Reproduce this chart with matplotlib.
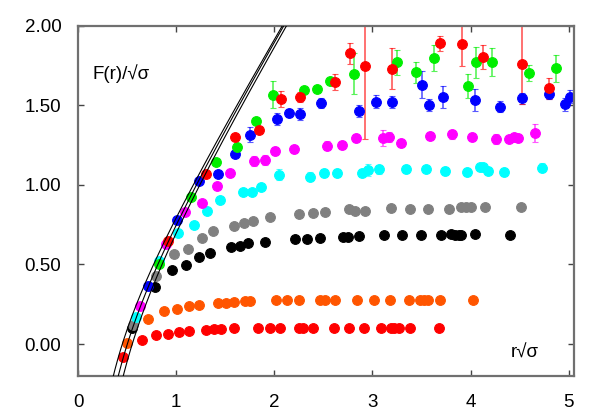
import matplotlib
matplotlib.use("Agg")
import matplotlib.pyplot as plt
from matplotlib.colors import to_rgba
import numpy as np

plt.rcParams['font.family'] = ['Liberation Sans', 'DejaVu Sans']

# data (x = r*sqrt(sigma), y = F(r)/sqrt(sigma))
red_lo_x = [0.461, 0.649, 0.794, 0.920, 1.029, 1.127, 1.300, 1.382, 1.453, 1.592, 1.836, 1.952, 2.057,
            2.247, 2.291, 2.393, 2.607, 2.763, 2.912, 3.089, 3.190, 3.225, 3.266, 3.384, 3.683]
red_lo_y = [-0.082, 0.027, 0.058, 0.066, 0.077, 0.083, 0.090, 0.094, 0.094, 0.098, 0.098, 0.099, 0.099,
            0.101, 0.100, 0.100, 0.101, 0.100, 0.100, 0.100, 0.100, 0.100, 0.100, 0.101, 0.100]

orange_x = [0.502, 0.713, 0.873, 1.005, 1.127, 1.232, 1.426, 1.510, 1.589, 1.698, 1.748, 2.013, 2.131,
            2.247, 2.461, 2.518, 2.614, 2.841, 3.014, 3.180, 3.374, 3.483, 3.523, 3.564, 3.693, 4.025]
orange_y = [0.006, 0.159, 0.205, 0.220, 0.236, 0.248, 0.257, 0.259, 0.265, 0.270, 0.272, 0.275, 0.276,
            0.277, 0.278, 0.277, 0.278, 0.278, 0.278, 0.278, 0.279, 0.278, 0.278, 0.278, 0.278, 0.279]

black_x = [0.553, 0.781, 0.954, 1.100, 1.229, 1.347, 1.555, 1.653, 1.731, 1.907, 2.207, 2.335, 2.461,
           2.699, 2.749, 2.861, 3.113, 3.302, 3.490, 3.697, 3.805, 3.839, 3.883, 3.907, 4.050, 4.406]
black_y = [0.100, 0.358, 0.464, 0.497, 0.546, 0.575, 0.609, 0.619, 0.634, 0.642, 0.659, 0.659, 0.669,
           0.671, 0.675, 0.681, 0.684, 0.684, 0.686, 0.686, 0.689, 0.688, 0.687, 0.687, 0.690, 0.687]

gray_x = [0.560, 0.797, 0.975, 1.123, 1.260, 1.378, 1.592, 1.687, 1.782, 1.952, 2.251, 2.393, 2.518,
          2.760, 2.818, 2.926, 3.190, 3.384, 3.564, 3.781, 3.903, 3.951, 4.005, 4.145, 4.514]
gray_y = [0.120, 0.426, 0.565, 0.596, 0.665, 0.711, 0.744, 0.759, 0.774, 0.799, 0.816, 0.824, 0.828,
          0.847, 0.838, 0.834, 0.855, 0.847, 0.847, 0.851, 0.860, 0.860, 0.860, 0.860, 0.860]

cyan_x = [0.591, 0.822, 1.020, 1.179, 1.319, 1.446, 1.677, 1.775, 1.869, 2.049, 2.363, 2.505, 2.641,
          2.892, 2.953, 3.070, 3.340, 3.544, 3.737, 3.964, 4.092, 4.129, 4.178, 4.341, 4.725]
cyan_y = [0.169, 0.520, 0.696, 0.749, 0.836, 0.907, 0.957, 0.957, 0.985, 1.063, 1.051, 1.077, 1.077,
          1.077, 1.093, 1.097, 1.100, 1.100, 1.085, 1.083, 1.110, 1.110, 1.089, 1.083, 1.108]
cyan_e = [0.005, 0.008, 0.010, 0.010, 0.012, 0.015, 0.015, 0.015, 0.020, 0.035, 0.030, 0.025, 0.025,
          0.025, 0.035, 0.030, 0.025, 0.020, 0.025, 0.025, 0.020, 0.020, 0.020, 0.025, 0.030]

magenta_x = [0.629, 0.894, 1.095, 1.263, 1.415, 1.545, 1.792, 1.902, 2.004, 2.196, 2.538, 2.690,
             2.836, 3.104, 3.170, 3.294, 3.585, 3.806, 4.012, 4.255, 4.394, 4.440, 4.486, 4.659]
magenta_y = [0.240, 0.627, 0.832, 0.888, 0.993, 1.073, 1.148, 1.155, 1.213, 1.222, 1.247, 1.250,
             1.292, 1.292, 1.302, 1.261, 1.307, 1.317, 1.302, 1.287, 1.287, 1.302, 1.292, 1.324]
magenta_e = [0.005, 0.008, 0.010, 0.012, 0.020, 0.025, 0.030, 0.030, 0.025, 0.025, 0.030, 0.025,
             0.025, 0.050, 0.030, 0.025, 0.025, 0.030, 0.025, 0.030, 0.020, 0.020, 0.020, 0.055]

blue_x = [0.713, 1.006, 1.235, 1.429, 1.602, 1.754, 2.024, 2.147, 2.263, 2.478, 2.865, 3.035, 3.200,
          3.505, 3.580, 3.720, 4.048, 4.297, 4.528, 4.801, 4.959, 5.015]
blue_y = [0.365, 0.780, 1.026, 1.068, 1.196, 1.316, 1.414, 1.449, 1.445, 1.516, 1.464, 1.522, 1.518,
          1.629, 1.503, 1.553, 1.533, 1.491, 1.543, 1.568, 1.506, 1.553]
blue_e = [0.005, 0.008, 0.010, 0.015, 0.020, 0.046, 0.040, 0.025, 0.035, 0.031, 0.039, 0.042, 0.038,
          0.086, 0.039, 0.069, 0.067, 0.033, 0.036, 0.029, 0.042, 0.042]

green_x = [0.828, 1.148, 1.405, 1.622, 1.813, 1.988, 2.298, 2.432, 2.564, 2.811, 3.246, 3.442, 3.627,
           3.977, 4.058, 4.216, 4.591, 4.868]
green_y = [0.505, 0.922, 1.146, 1.240, 1.403, 1.565, 1.594, 1.602, 1.653, 1.699, 1.769, 1.706, 1.794,
           1.620, 1.769, 1.769, 1.704, 1.731]
green_e = [0.005, 0.008, 0.010, 0.012, 0.015, 0.085, 0.020, 0.020, 0.020, 0.130, 0.077, 0.068, 0.082,
           0.077, 0.095, 0.088, 0.050, 0.086]

red_hi_x = [0.920, 1.303, 1.599, 1.846, 2.065, 2.261, 2.614, 2.770, 2.921, 3.200, 3.693, 3.916, 4.129,
            4.523, 4.796]
red_hi_y = [0.647, 1.066, 1.302, 1.346, 1.540, 1.550, 1.646, 1.825, 1.748, 1.730, 1.888, 1.884, 1.805,
            1.757, 1.606]
red_hi_e = [0.005, 0.010, 0.012, 0.015, 0.048, 0.030, 0.053, 0.063, 0.462, 0.129, 0.048, 0.140, 0.075,
            0.250, 0.066]

# T=0 potential curves  b*x - a/x + c, parameters
curve_a = [0.189, 0.236, 0.297]
curve_b = [1.025, 1.030, 1.019]
curve_c = [-0.044, -0.048, -0.026]

series = [
    (red_lo_x, red_lo_y, None, "#ff0000"),
    (orange_x, orange_y, None, "#ff5500"),
    (black_x, black_y, None, "#000000"),
    (gray_x, gray_y, None, "#808080"),
    (cyan_x, cyan_y, cyan_e, "#00ffff"),
    (magenta_x, magenta_y, magenta_e, "#ff00ff"),
    (blue_x, blue_y, blue_e, "#0000ff"),
    (green_x, green_y, green_e, "#00ee00"),
    (red_hi_x, red_hi_y, red_hi_e, "#ff0000"),
]

fig = plt.figure(figsize=(6, 4.2), dpi=100)
ax = fig.add_axes([0.13, 0.105, 0.826, 0.834])

for xs, ys, es, col in series:
    ax.errorbar(xs, ys, yerr=es, fmt="o", color=col, mec=col, ms=7, mew=0.8,
                ecolor=to_rgba(col, 0.65), elinewidth=1.2, capsize=2.5, capthick=1.0, zorder=2)

r = np.linspace(0.3, 2.3, 400)
for a, b, c in zip(curve_a, curve_b, curve_c):
    ax.plot(r, b * r - a / r + c, color="black", lw=0.8, zorder=3)

ax.set_xlim(0, 5.05)
ax.set_ylim(-0.2, 2.0)
ax.set_xticks([0, 1, 2, 3, 4, 5])
ax.set_yticks([0.0, 0.5, 1.0, 1.5, 2.0])
ax.set_yticklabels(["%.2f" % v for v in [0.0, 0.5, 1.0, 1.5, 2.0]])
ax.tick_params(direction="in", top=True, right=True, length=4, width=1, color="#444444",
               labelsize=13.5)
ax.tick_params(axis="x", pad=13)
ax.tick_params(axis="y", pad=12)
for sp in ax.spines.values():
    sp.set_color("#707070")
    sp.set_linewidth(1.6)

ax.text(0.15, 1.70, "F(r)/√σ", fontsize=13.5, va="center")
ax.text(4.41, -0.056, "r√σ", fontsize=13.5, va="center")

fig.savefig("out.png", dpi=100)
